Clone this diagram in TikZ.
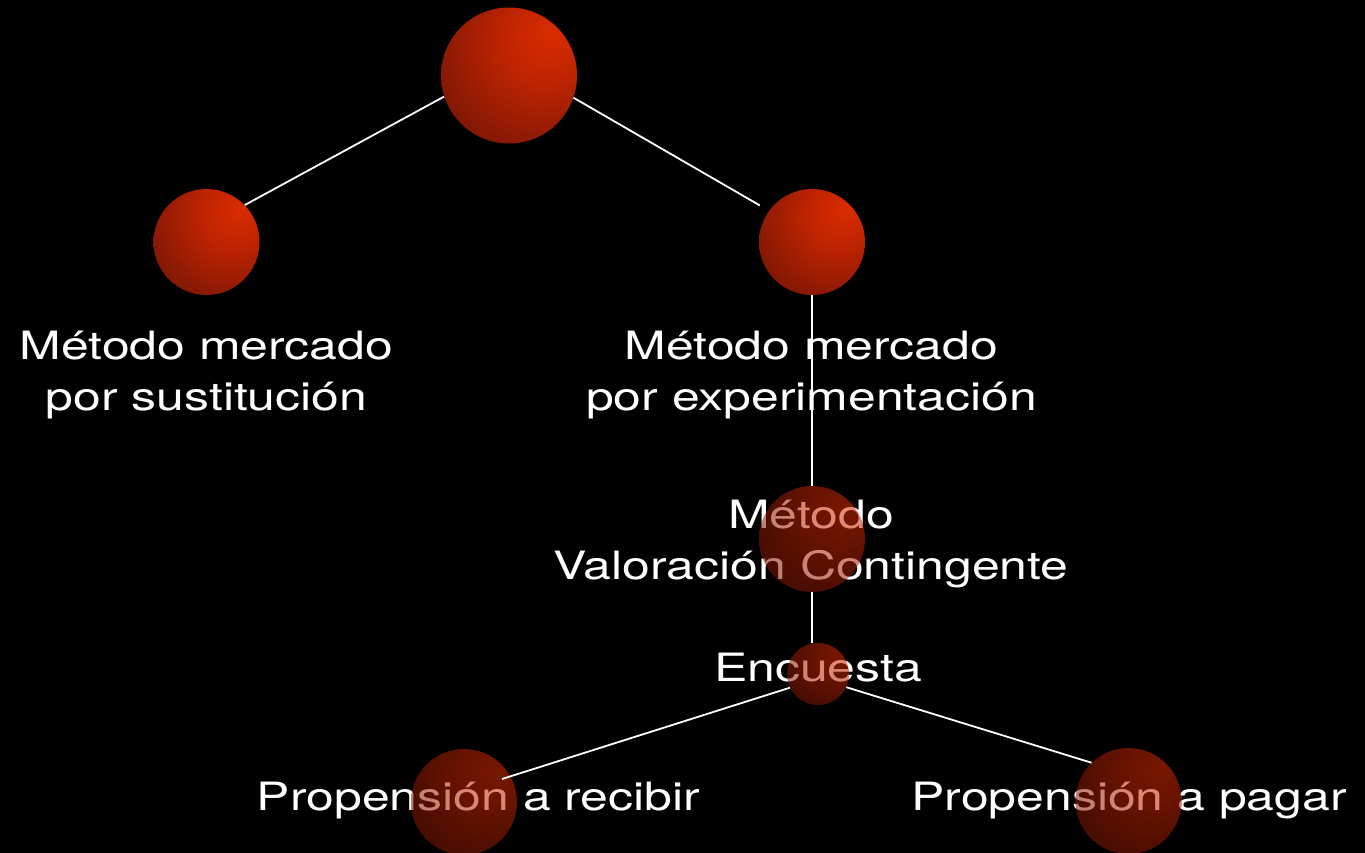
\documentclass[tikz,border=0pt]{standalone}
\usepackage{fontspec}
\usetikzlibrary{calc}
\newfontfamily\hfont[FakeStretch=1.28]{TeX Gyre Heros}
\definecolor{hl}{RGB}{218,44,0}
\definecolor{mA}{RGB}{190,36,2}
\definecolor{mB}{RGB}{132,24,4}
\definecolor{dk}{RGB}{88,14,4}
\pgfdeclareradialshading{sph}{\pgfpoint{16bp}{16bp}}{color(0bp)=(hl); color(16bp)=(mA); color(38bp)=(mB); color(58bp)=(dk); color(100bp)=(dk)}
\begin{document}
\begin{tikzpicture}[x=1pt,y=-1pt,
  sphere/.style={circle,inner sep=0pt,shading=sph,minimum size=#1},
  ghost/.style={opacity=0.55},
  lbl/.style={text=white,font=\hfont\fontsize{39pt}{51pt}\selectfont,align=center,anchor=base,inner sep=0pt},
  conn/.style={draw=white,line width=1.8pt}]
\fill[black] (0,0) rectangle (1365,853);
\useasboundingbox (0,0) rectangle (1365,853);
% opaque spheres
\node[sphere=136pt] (top) at (509,75.5) {};
\node[sphere=106pt] (left) at (206.5,242) {};
\node[sphere=106pt] (right) at (812,242) {};
% labels
\node[lbl] (tl) at (206.5,410) {Método mercado\\por sustitución};
\node[lbl] (tr) at (811.5,410) {Método mercado\\por experimentación};
\node[lbl] (tm) at (811,579) {Método\\Valoración Contingente};
\node[lbl] (te) at (818,681) {Encuesta};
\node[lbl] (tpr) at (478.5,810) {Propensión a recibir};
\node[lbl] (tpp) at (1129,810) {Propensión a pagar};
% translucent spheres
\node[sphere=106pt,ghost] (mid) at (812,539) {};
\node[sphere=62pt,ghost] (enc) at (818,674) {};
\node[sphere=106pt,ghost] (pr) at (464,802) {};
\node[sphere=106pt,ghost] (pp) at (1128.5,801) {};
\coordinate (prend) at ($(pr)+(38,-23)$);
% connectors
\draw[conn] (top.198.7) -- (left.44.8);
\draw[conn,shorten >=10.6pt] (top.341.2) -- (right.144.4);
\draw[conn] (right.south) -- (mid.north);
\draw[conn] (mid.south) -- (mid.south |- enc.north);
\draw[conn] (enc.206.6) -- (prend);
\draw[conn] (enc.335) -- (pp.134);
\end{tikzpicture}
\end{document}
